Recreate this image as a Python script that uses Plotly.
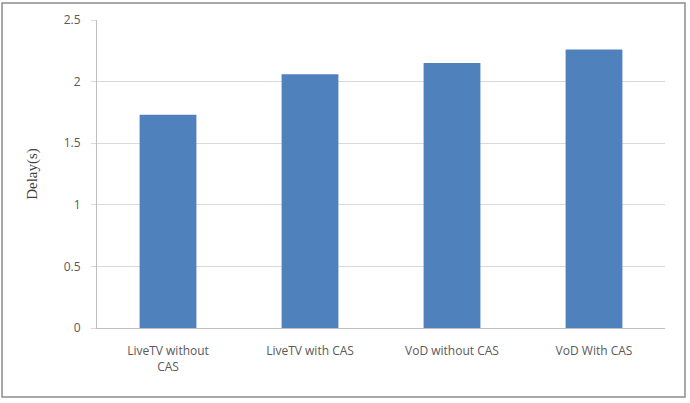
import plotly.graph_objects as go

categories = ["LiveTV without<br>CAS", "LiveTV with CAS", "VoD without CAS", "VoD With CAS"]
delays = [1.73, 2.06, 2.15, 2.26]
y_ticks = [0, 0.5, 1, 1.5, 2, 2.5]
y_tick_labels = ["0", "0.5", "1", "1.5", "2", "2.5"]

L, R, T, B = 97, 25, 20, 75
W, H = 690, 403
pw, ph = W - L - R, H - T - B

def px_x(p):
    return (p - L) / pw

def px_y(p):
    return (H - B - p) / ph

fig = go.Figure(go.Bar(x=categories, y=delays, marker=dict(color="#4F81BD", line=dict(width=0)), width=0.4))

fig.update_layout(
    width=W, height=H,
    margin=dict(l=L, r=R, t=T, b=B),
    paper_bgcolor="white", plot_bgcolor="white",
    showlegend=False,
    font=dict(family="Open Sans", size=12, color="#595959"),
    xaxis=dict(showline=True, linecolor="#BFBFBF", linewidth=1, ticks="", ticklabelstandoff=12,
               tickfont=dict(size=12, color="#595959"), fixedrange=True),
    yaxis=dict(range=[0, 2.5], tickvals=y_ticks, ticktext=y_tick_labels, showgrid=True, gridcolor="#D9D9D9", gridwidth=1,
               showline=True, linecolor="#BFBFBF", linewidth=1, ticks="outside", ticklen=5, tickcolor="#D9D9D9",
               ticklabelstandoff=8,
               tickfont=dict(size=12, color="#595959"), zeroline=False,
               title=dict(text="Delay(s)", font=dict(family="Liberation Serif", size=15, color="#404040"), standoff=22)),
    shapes=[dict(type="rect", xref="paper", yref="paper", x0=px_x(2), x1=px_x(685), y0=px_y(397), y1=px_y(3),
                 line=dict(color="#8C8C8C", width=1.5), layer="below")],
)

fig.write_html("out.html")
